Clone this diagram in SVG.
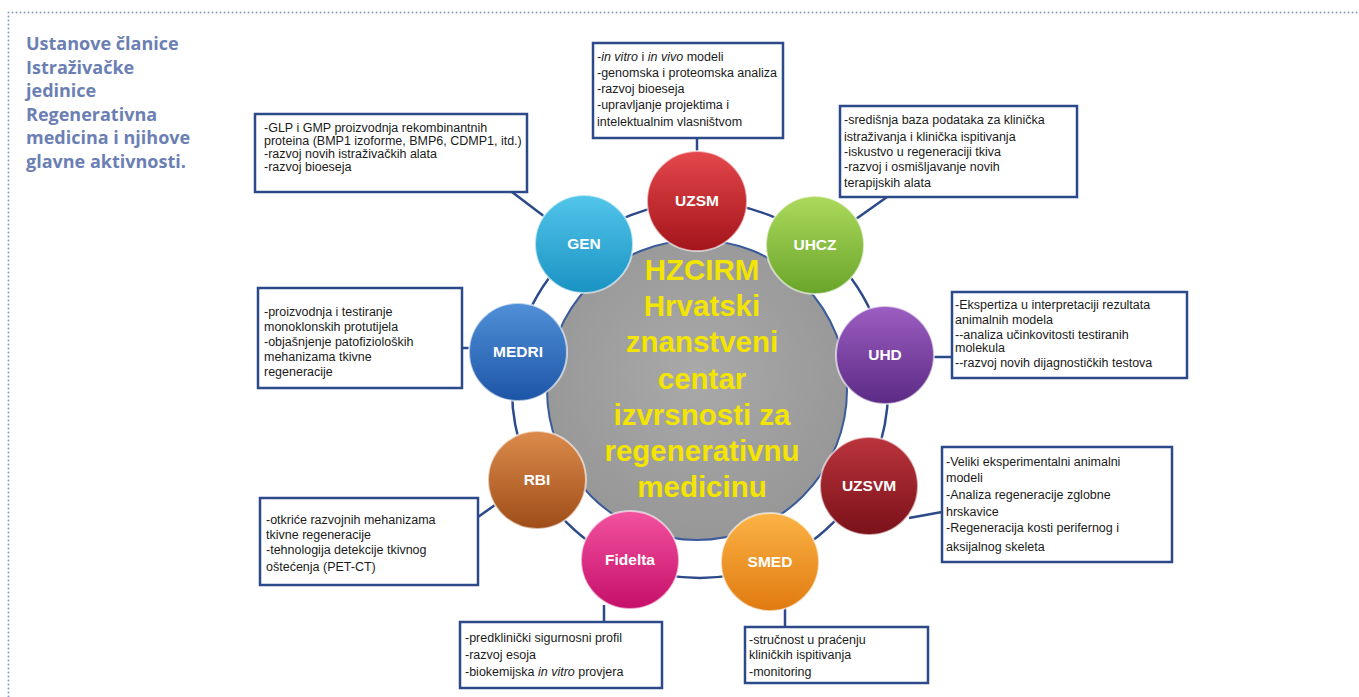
<svg xmlns="http://www.w3.org/2000/svg" width="1359" height="697" viewBox="0 0 1359 697">
<style>
.cap{font-family:"Open Sans","Liberation Sans",sans-serif;font-weight:700;font-size:18px;fill:#6c7fb4}
.box{fill:#ffffff;stroke:#2c4a8a;stroke-width:2.5}
.bt{font-family:"Liberation Sans",Arial,sans-serif;font-size:12.5px;fill:#1a1a1a}
.lbl{font-family:"Liberation Sans",Arial,sans-serif;font-weight:700;font-size:15.5px;fill:#ffffff;text-anchor:middle}
.ctr{font-family:"Liberation Sans",Arial,sans-serif;font-weight:700;font-size:29.5px;fill:#f3e500;text-anchor:middle}
.con{stroke:#2c4a8a;stroke-width:2.5;fill:none}
.node{stroke:#ffffff;stroke-opacity:0.6;stroke-width:2}
</style>
<defs>
<linearGradient id="gRed" x1="0" y1="0" x2="0" y2="1"><stop offset="0" stop-color="#e4484c"/><stop offset="1" stop-color="#a3141b"/></linearGradient>
<linearGradient id="gGreen" x1="0" y1="0" x2="0" y2="1"><stop offset="0" stop-color="#acd95c"/><stop offset="1" stop-color="#69a52a"/></linearGradient>
<linearGradient id="gPurple" x1="0" y1="0" x2="0" y2="1"><stop offset="0" stop-color="#9c5ec2"/><stop offset="1" stop-color="#5b2a84"/></linearGradient>
<linearGradient id="gDRed" x1="0" y1="0" x2="0" y2="1"><stop offset="0" stop-color="#bb343d"/><stop offset="1" stop-color="#7a1119"/></linearGradient>
<linearGradient id="gOrange" x1="0" y1="0" x2="0" y2="1"><stop offset="0" stop-color="#fbb345"/><stop offset="1" stop-color="#e07a10"/></linearGradient>
<linearGradient id="gMagenta" x1="0" y1="0" x2="0" y2="1"><stop offset="0" stop-color="#f2529f"/><stop offset="1" stop-color="#c50f69"/></linearGradient>
<linearGradient id="gBrown" x1="0" y1="0" x2="0" y2="1"><stop offset="0" stop-color="#dc8b4c"/><stop offset="1" stop-color="#9f4d18"/></linearGradient>
<linearGradient id="gBlue" x1="0" y1="0" x2="0" y2="1"><stop offset="0" stop-color="#5090d8"/><stop offset="1" stop-color="#1d55a6"/></linearGradient>
<linearGradient id="gCyan" x1="0" y1="0" x2="0" y2="1"><stop offset="0" stop-color="#52c5ea"/><stop offset="1" stop-color="#1a92c3"/></linearGradient>
<radialGradient id="gGray" cx="0.5" cy="0.45" r="0.55"><stop offset="0" stop-color="#a9a9a9"/><stop offset="1" stop-color="#979797"/></radialGradient>
</defs>
<rect width="1359" height="697" fill="#ffffff"/>
<path d="M8.5,12.5 H1359 M8.5,12.5 V697" stroke="#8b9cc9" stroke-width="2" stroke-linecap="round" stroke-dasharray="0 4" fill="none"/>
<g id="caption">
<text class="cap" x="26" y="50">Ustanove članice</text>
<text class="cap" x="26" y="73.5">Istraživačke</text>
<text class="cap" x="26" y="97">jedinice</text>
<text class="cap" x="26" y="120.5">Regenerativna</text>
<text class="cap" x="26" y="144">medicina i njihove</text>
<text class="cap" x="26" y="167.5">glavne aktivnosti.</text>
</g>
<g id="connectors">
<circle cx="700" cy="390" r="188" class="con"/>
<line x1="697" y1="138" x2="697" y2="153" class="con"/>
<line x1="512" y1="192" x2="545" y2="217" class="con"/>
<line x1="887" y1="197" x2="856" y2="219" class="con"/>
<line x1="462" y1="348" x2="471" y2="348" class="con"/>
<line x1="932" y1="357" x2="952" y2="357" class="con"/>
<line x1="909" y1="518" x2="942" y2="512" class="con"/>
<line x1="785" y1="608" x2="785" y2="627" class="con"/>
<line x1="604" y1="605" x2="604" y2="622" class="con"/>
<line x1="478" y1="517" x2="495" y2="505" class="con"/>
</g>
<g id="center">
<circle cx="697" cy="390" r="150" fill="url(#gGray)" stroke="#3a5a9a" stroke-width="2"/>
<text class="ctr" x="702" y="280">HZCIRM</text>
<text class="ctr" x="702" y="316">Hrvatski</text>
<text class="ctr" x="702" y="352">znanstveni</text>
<text class="ctr" x="702" y="389">centar</text>
<text class="ctr" x="702" y="425">izvrsnosti za</text>
<text class="ctr" x="702" y="461">regenerativnu</text>
<text class="ctr" x="702" y="497">medicinu</text>
</g>
<g id="UZSM">
<circle cx="697" cy="201" r="50" fill="url(#gRed)" class="node"/>
<text class="lbl" x="697" y="206">UZSM</text>
<rect class="box" x="593" y="43" width="190" height="95"/>
<text class="bt" x="597" y="61">-<tspan font-style="italic">in vitro</tspan> i <tspan font-style="italic">in vivo</tspan> modeli</text>
<text class="bt" x="597" y="77">-genomska i proteomska analiza</text>
<text class="bt" x="597" y="93">-razvoj bioeseja</text>
<text class="bt" x="597" y="109">-upravljanje projektima i</text>
<text class="bt" x="597" y="126">intelektualnim vlasništvom</text>
</g>
<g id="GEN">
<circle cx="584" cy="244" r="49" fill="url(#gCyan)" class="node"/>
<text class="lbl" x="584" y="249">GEN</text>
<rect class="box" x="255" y="114" width="272" height="78"/>
<text class="bt" x="264" y="132">-GLP i GMP proizvodnja rekombinantnih</text>
<text class="bt" x="264" y="145">proteina (BMP1 izoforme, BMP6, CDMP1, itd.)</text>
<text class="bt" x="264" y="158">-razvoj novih istraživačkih alata</text>
<text class="bt" x="264" y="171">-razvoj bioeseja</text>
</g>
<g id="UHCZ">
<circle cx="815" cy="245" r="49" fill="url(#gGreen)" class="node"/>
<text class="lbl" x="815" y="250">UHCZ</text>
<rect class="box" x="840" y="106" width="237" height="91"/>
<text class="bt" x="844" y="124">-središnja baza podataka za klinička</text>
<text class="bt" x="844" y="141">istraživanja i klinička ispitivanja</text>
<text class="bt" x="844" y="156">-iskustvo u regeneraciji tkiva</text>
<text class="bt" x="844" y="171">-razvoj i osmišljavanje novih</text>
<text class="bt" x="844" y="187">terapijskih alata</text>
</g>
<g id="UHD">
<circle cx="885" cy="355" r="49" fill="url(#gPurple)" class="node"/>
<text class="lbl" x="885" y="360">UHD</text>
<rect class="box" x="952" y="292" width="235" height="86"/>
<text class="bt" x="955" y="309">-Ekspertiza u interpretaciji rezultata</text>
<text class="bt" x="955" y="324">animalnih modela</text>
<text class="bt" x="955" y="339"> --analiza učinkovitosti testiranih</text>
<text class="bt" x="955" y="352">molekula</text>
<text class="bt" x="955" y="367"> --razvoj novih dijagnostičkih testova</text>
</g>
<g id="UZSVM">
<circle cx="869" cy="486" r="49" fill="url(#gDRed)" class="node"/>
<text class="lbl" x="869" y="491">UZSVM</text>
<rect class="box" x="942" y="447" width="230" height="115"/>
<text class="bt" x="946" y="466">-Veliki eksperimentalni animalni</text>
<text class="bt" x="946" y="482">modeli</text>
<text class="bt" x="946" y="499">-Analiza regeneracije zglobne</text>
<text class="bt" x="946" y="516">hrskavice</text>
<text class="bt" x="946" y="532">-Regeneracija kosti perifernog i</text>
<text class="bt" x="946" y="551">aksijalnog skeleta</text>
</g>
<g id="SMED">
<circle cx="770" cy="562" r="49" fill="url(#gOrange)" class="node"/>
<text class="lbl" x="770" y="567">SMED</text>
<rect class="box" x="745" y="627" width="183" height="56"/>
<text class="bt" x="749" y="644">-stručnost u praćenju</text>
<text class="bt" x="749" y="659">kliničkih ispitivanja</text>
<text class="bt" x="749" y="676">-monitoring</text>
</g>
<g id="Fidelta">
<circle cx="630" cy="560" r="49" fill="url(#gMagenta)" class="node"/>
<text class="lbl" x="630" y="565">Fidelta</text>
<rect class="box" x="460" y="622" width="202" height="66"/>
<text class="bt" x="465" y="642">-predklinički sigurnosni profil</text>
<text class="bt" x="465" y="659">-razvoj esoja</text>
<text class="bt" x="465" y="676">-biokemijska <tspan font-style="italic">in vitro</tspan> provjera</text>
</g>
<g id="RBI">
<circle cx="537" cy="480" r="49" fill="url(#gBrown)" class="node"/>
<text class="lbl" x="537" y="485">RBI</text>
<rect class="box" x="260" y="498" width="218" height="87"/>
<text class="bt" x="266" y="524">-otkriće razvojnih mehanizama</text>
<text class="bt" x="266" y="539">tkivne regeneracije</text>
<text class="bt" x="266" y="554">-tehnologija detekcije tkivnog</text>
<text class="bt" x="266" y="571">oštećenja (PET-CT)</text>
</g>
<g id="MEDRI">
<circle cx="518" cy="352" r="49" fill="url(#gBlue)" class="node"/>
<text class="lbl" x="518" y="357">MEDRI</text>
<rect class="box" x="258" y="288" width="204" height="100"/>
<text class="bt" x="264" y="316">-proizvodnja i testiranje</text>
<text class="bt" x="264" y="331">monoklonskih protutijela</text>
<text class="bt" x="264" y="346">-objašnjenje patofizioloških</text>
<text class="bt" x="264" y="361">mehanizama tkivne</text>
<text class="bt" x="264" y="376">regeneracije</text>
</g>
</svg>
